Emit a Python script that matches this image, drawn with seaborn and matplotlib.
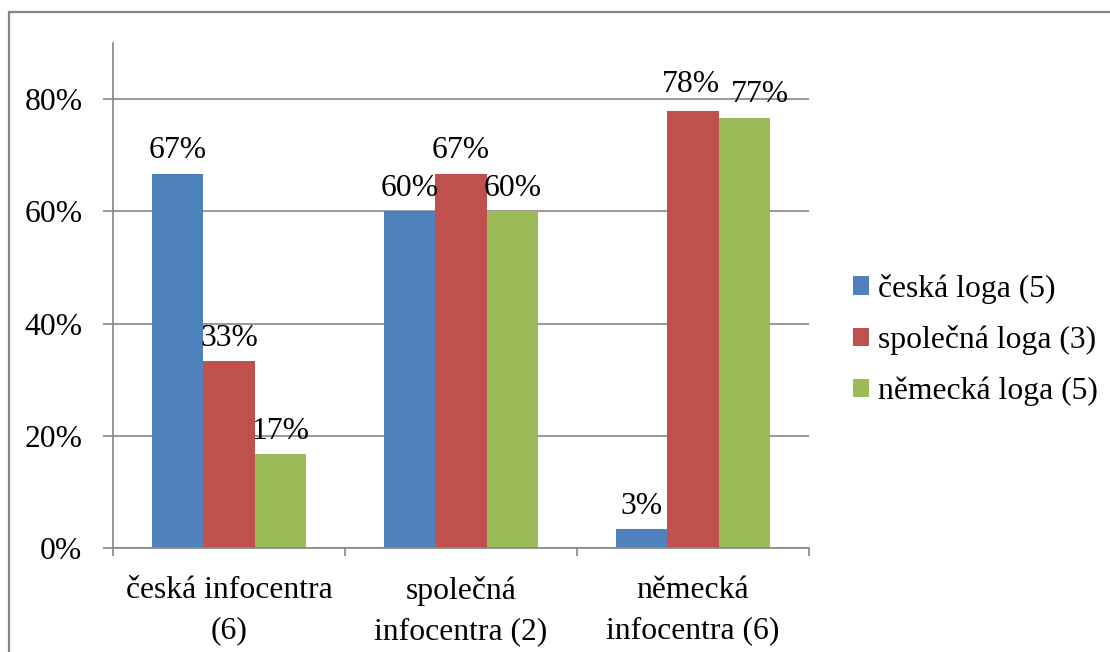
import matplotlib
matplotlib.use("Agg")
import matplotlib.pyplot as plt
from matplotlib.patches import Rectangle
from matplotlib.ticker import FuncFormatter, FixedLocator
import pandas as pd
import seaborn as sns

# Share of logos recognised, by type of information centre
categories = ["česká infocentra\n(6)", "společná\ninfocentra (2)", "německá\ninfocentra (6)"]
series = ["česká loga (5)", "společná loga (3)", "německá loga (5)"]
ceska_loga = [0.667, 0.600, 0.033]
spolecna_loga = [0.333, 0.667, 0.778]
nemecka_loga = [0.167, 0.600, 0.767]
colors = ["#4F81BD", "#C0504D", "#9BBB59"]
y_ticks = [0.0, 0.2, 0.4, 0.6, 0.8]

rows = []
for name, vals in zip(series, [ceska_loga, spolecna_loga, nemecka_loga]):
    for cat, v in zip(categories, vals):
        rows.append({"kategorie": cat, "loga": name, "podil": v})
df = pd.DataFrame(rows)

sns.set_theme(style="white")
plt.rcParams["font.family"] = ["Liberation Serif", "DejaVu Serif"]
plt.rcParams["text.color"] = "black"
FS = 22.8
grid_col = "#868686"

fig = plt.figure(figsize=(11.1, 6.52), dpi=100)
W, H = 1110, 652
ax = fig.add_axes([113 / W, (H - 548) / H, (809 - 113) / W, (548 - 43) / H])

sns.barplot(data=df, x="kategorie", y="podil", hue="loga", order=categories,
            hue_order=series, palette=colors, width=0.667, gap=0,
            saturation=1, linewidth=0, errorbar=None, ax=ax, legend=True)

label_sets = []
for cont in ax.containers:
    texts = ax.bar_label(cont, labels=[f"{v:.0%}" for v in cont.datavalues],
                         padding=6, fontsize=FS, color="black")
    label_sets.append(texts)

ax.set_xlim(-0.5, 2.5)
ax.set_ylim(0, 0.9)
ax.yaxis.set_major_locator(FixedLocator(y_ticks))
ax.yaxis.set_major_formatter(FuncFormatter(lambda v, p: f"{v:.0%}"))
ax.grid(axis="y", color=grid_col, linewidth=1.2)
ax.set_axisbelow(True)
ax.set_xlabel("")
ax.set_ylabel("")

for side in ["top", "right"]:
    ax.spines[side].set_visible(False)
for side in ["left", "bottom"]:
    ax.spines[side].set_color(grid_col)
    ax.spines[side].set_linewidth(1.2)

ax.tick_params(axis="y", which="major", length=7, width=1.2, color=grid_col,
               direction="out", pad=15, labelsize=FS, left=True,
               labelcolor="black")
ax.set_xticks(range(len(categories)))
ax.set_xticklabels(categories, fontsize=FS, linespacing=1.5)
ax.set_xticks([-0.5, 0.5, 1.5, 2.5], minor=True)
ax.tick_params(axis="x", which="major", length=0, pad=20, labelcolor="black")
ax.tick_params(axis="x", which="minor", length=6, width=1.2, color=grid_col,
               direction="out", bottom=True)

handles, labels = ax.get_legend_handles_labels()
ax.legend_.remove()
fig.legend(handles, labels, loc="center left",
           bbox_to_anchor=(853 / W, 1 - 340 / H), frameon=False,
           fontsize=FS, handlelength=0.52, handleheight=0.52,
           handletextpad=0.26, labelspacing=0.68, borderpad=0,
           borderaxespad=0, labelcolor="black")

# push apart value labels of neighbouring bars when they would collide
fig.canvas.draw()
renderer = fig.canvas.get_renderer()
for i in range(len(categories)):
    for left_set, right_set in zip(label_sets[:-1], label_sets[1:]):
        a, b = left_set[i], right_set[i]
        ea = a.get_window_extent(renderer)
        eb = b.get_window_extent(renderer)
        vertical = ea.y0 < eb.y1 and eb.y0 < ea.y1
        overlap = ea.x1 - eb.x0 + 10
        if vertical and overlap > 0:
            shift_pt = overlap / 2 * 72 / fig.dpi
            ax_, ay_ = a.xyann
            bx_, by_ = b.xyann
            a.xyann = (ax_ - shift_pt * 0.2, ay_ + 3)
            b.xyann = (bx_ + shift_pt * 1.8, by_)

# outer chart border
fig.patches.append(Rectangle((9 / W, -0.1), 1.2, 1.1 - 12 / H,
                             transform=fig.transFigure, fill=False,
                             edgecolor=grid_col, linewidth=1.6))

fig.savefig("out.png", dpi=100)
